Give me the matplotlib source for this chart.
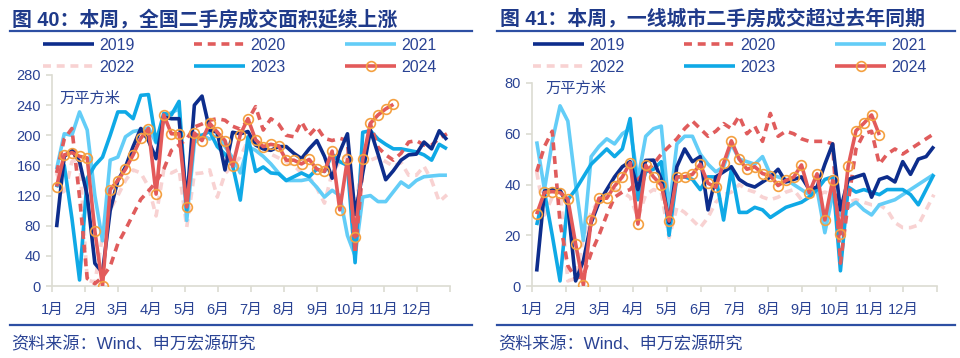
import numpy as np
import matplotlib
matplotlib.use('Agg')
import matplotlib.pyplot as plt
from matplotlib.lines import Line2D

plt.rcParams['font.family'] = ['Liberation Sans', 'Noto Sans CJK SC', 'DejaVu Sans']

# ---------------- data ----------------
years = ['2019', '2020', '2021', '2022', '2023', '2024']
month_labels = ['1月', '2月', '3月', '4月', '5月', '6月', '7月', '8月', '9月', '10月', '11月', '12月']

titles = ['图 40：本周，全国二手房成交面积延续上涨', '图 41：本周，一线城市二手房成交超过去年同期']
unit_label = '万平方米'
source_label = '资料来源：Wind、申万宏源研究'

# national (万平方米), weekly
nat_2019 = [78, 172, 180, 165, 120, 30, 18, 100, 140, 158, 185, 209, 193, 169, 224, 222, 222, 110, 240, 252,
            207, 204, 154, 204, 202, 205, 187, 182, 180, 185, 185, 176, 169, 182, 193, 172, 143, 178, 202, 95,
            150, 207, 175, 141, 153, 167, 174, 175, 191, 182, 206, 194]
nat_2020 = [150, 195, 209, 118, 10, 3, 12, 26, 56, 75, 95, 115, 126, 138, 155, 180, 187, 195, 211, 215,
            220, 222, 220, 212, 208, 220, 238, 207, 222, 215, 200, 198, 218, 200, 211, 196, 193, 196, 193, 43,
            154, 215, 184, 174, 167, 176, 191, 193, 187, 187, 196, 202]
nat_2021 = [155, 202, 200, 231, 207, 120, 60, 167, 171, 198, 205, 207, 210, 190, 225, 230, 235, 87, 190, 200,
            195, 200, 185, 170, 150, 185, 180, 172, 162, 150, 140, 140, 140, 142, 131, 118, 127, 120, 67, 40,
            118, 120, 112, 112, 125, 138, 131, 140, 145, 146, 147, 147]
nat_2022 = [150, 120, 165, 170, 8, 5, 66, 101, 120, 140, 154, 150, 132, 93, 154, 150, 155, 78, 149, 150,
            154, 118, 149, 160, 171, 193, 190, 185, 175, 170, 165, 160, 150, 145, 130, 110, 150, 165, 175, 100,
            168, 167, 171, 165, 159, 164, 147, 147, 159, 140, 112, 121]
nat_2023 = [131, 160, 90, 8, 143, 160, 171, 200, 231, 231, 222, 253, 254, 191, 229, 227, 245, 100, 200, 200,
            205, 185, 175, 160, 114, 198, 152, 158, 150, 149, 140, 145, 150, 145, 155, 152, 175, 165, 160, 31,
            204, 206, 195, 188, 182, 182, 180, 178, 174, 167, 188, 182]
nat_2024 = [132, 174, 177, 172, 170, 73, 0, 128, 140, 155, 174, 196, 209, 122, 227, 202, 202, 105, 203, 193,
            216, 204, 193, 159, 201, 222, 194, 185, 188, 186, 167, 167, 162, 168, 155, 152, 179, 101, 168, 65,
            168, 216, 227, 235, 241]

# tier-1 cities (万平方米), weekly
t1_2019 = [5.7, 37.4, 38.1, 37.7, 32, 2, 10, 25, 33, 38, 43, 47, 49, 38, 49.5, 49.6, 42, 25, 47, 54,
           49, 51, 30, 43, 45, 47, 42, 40, 39, 41, 43, 46, 41, 42, 43, 38, 39, 48, 56, 30,
           42, 43, 44, 35, 42, 43, 41, 49, 44, 50, 51, 55]
t1_2020 = [45, 55, 61, 25, 8, 3, 4, 13, 20, 28, 35, 37, 38, 42, 45, 48, 52, 55, 58, 62,
           65, 62, 59, 61, 64, 62, 67, 60, 63, 57, 68, 59, 61, 60, 58, 57, 57, 57, 56, 9,
           33, 54, 60, 61, 48, 52, 54, 52, 54, 56, 58, 60]
t1_2021 = [57, 38, 57, 71, 65, 40, 18, 51, 55, 58, 56, 60, 62, 42, 59, 62, 63, 30, 56, 59,
           59, 52, 48, 45, 47, 56, 50, 49, 48, 51, 44, 43, 42, 40, 38, 36, 38, 21, 36, 28,
           31, 33, 30, 28, 32, 33, 34, 36, 38, 40, 42, 44]
t1_2022 = [45, 28, 35, 38, 2, 3, 19, 29, 34, 36, 38, 37, 35, 27, 36, 38, 37, 19, 31, 29,
           26, 23, 27, 33, 36, 37, 40, 38, 37, 35, 34, 35, 37, 38, 34, 35, 36, 37, 36, 22,
           33, 34, 33, 32, 32, 30, 25, 23, 23, 24, 30, 36]
t1_2023 = [24, 37, 20, 2, 34, 38, 43, 48, 51, 54, 51, 54, 66, 34, 45, 46, 49, 20, 43, 43,
           42, 38, 43, 43, 26, 46, 29, 29, 31, 30, 27, 29, 31, 32, 33, 35, 38, 42, 43, 6,
           39, 37, 38, 37, 36, 38, 38, 38, 36, 32, 38, 44]
t1_2024 = [28.3, 36.9, 37.2, 36.8, 34.3, 16.6, 0.4, 26, 34.6, 34.6, 39.4, 43, 48.6, 24.4, 47.6, 43, 39.8, 25.6, 43, 43,
           44, 48, 40.5, 38.9, 48.4, 57.2, 50, 46, 47, 44.3, 43.5, 39.6, 41.6, 42.9, 47.7, 36.8, 44.2, 26, 41.6, 20.5,
           47.3, 61.2, 64.1, 67.4, 59.5]

nat_yticks = [0, 40, 80, 120, 160, 200, 240, 280]
t1_yticks = [0, 20, 40, 60, 80]

# ---------------- style ----------------
NAVY = '#1F3A8A'
TXT = '#2A4394'
styles = {
    '2019': dict(color='#0D2D8C', lw=2.6, ls='-', zorder=5),
    '2020': dict(color='#E05C5C', lw=2.6, ls=(0, (2.2, 1.6)), zorder=4),
    '2021': dict(color='#63CDF7', lw=2.6, ls='-', zorder=2),
    '2022': dict(color='#F8D2D2', lw=2.6, ls=(0, (2.2, 1.6)), zorder=1),
    '2023': dict(color='#0FA9E6', lw=2.6, ls='-', zorder=3),
    '2024': dict(color='#E35A5A', lw=2.6, ls='-', zorder=6, marker='o', ms=7,
                 mfc='none', mec='#F4A040', mew=1.2),
}
plot_order = ['2022', '2021', '2020', '2023', '2019', '2024']
legend_order = ['2019', '2022', '2020', '2023', '2021', '2024']

W, H = 960, 358
fig = plt.figure(figsize=(W / 100, H / 100), dpi=100)


def fx(px):
    return px / W


def fy(py):
    return 1 - py / H


def panel(rect, series, yticks, title, title_x, title_fs, rule_x0, rule_x1, leg_x, unit_xy):
    ax = fig.add_axes(rect)
    for y in plot_order:
        vals = series[y]
        x = np.arange(len(vals)) + 0.6
        ax.plot(x, vals, label=y, solid_capstyle='butt', **styles[y])
    ax.set_xlim(0, 52)
    ax.set_ylim(yticks[0], yticks[-1])
    ax.set_yticks(yticks)
    ax.set_xticks([k * 52 / 12 for k in range(13)])
    ax.set_xticklabels(month_labels + [''])
    for s in ['top', 'right']:
        ax.spines[s].set_visible(False)
    for s in ['left', 'bottom']:
        ax.spines[s].set_color('#DCDCD2')
        ax.spines[s].set_linewidth(1.2)
    ax.tick_params(axis='both', colors='#DCDCD2', labelcolor=TXT, labelsize=10.5, length=4, width=1.2)
    ax.tick_params(axis='x', pad=8)
    ax.tick_params(axis='y', pad=4)
    ax.text(unit_xy[0], unit_xy[1], unit_label, transform=fig.transFigure, color=TXT,
            fontsize=11, va='center', ha='left', zorder=10)

    handles = {h.get_label(): h for h in ax.get_lines()}
    leg = ax.legend([handles[k] for k in legend_order], legend_order, ncol=3,
                    loc='upper left', bbox_to_anchor=(fx(leg_x), fy(38)),
                    bbox_transform=fig.transFigure, frameon=False, fontsize=11.5,
                    handlelength=3.2, handletextpad=0.3, columnspacing=3.75,
                    labelspacing=0.42, borderpad=0, borderaxespad=0)
    for t in leg.get_texts():
        t.set_color(TXT)

    fig.text(fx(title_x), fy(19), title, fontsize=title_fs, fontweight='bold', color=NAVY,
             va='center', ha='left')
    fig.add_artist(Line2D([fx(rule_x0), fx(rule_x1)], [fy(30.5), fy(30.5)], color='#2D4FA3', lw=1.6))
    fig.add_artist(Line2D([fx(rule_x0), fx(rule_x1)], [fy(325), fy(325)], color='#2D4FA3', lw=1.6))
    fig.text(fx(rule_x0 + 1), fy(344), source_label, fontsize=12.3, color=TXT, va='center', ha='left')
    return ax


nat = dict(zip(years, [nat_2019, nat_2020, nat_2021, nat_2022, nat_2023, nat_2024]))
t1 = dict(zip(years, [t1_2019, t1_2020, t1_2021, t1_2022, t1_2023, t1_2024]))

panel([fx(52), fy(286), fx(398), (286 - 75) / H], nat, nat_yticks, titles[0],
      12, 14.3, 10, 472, 43, (fx(59), fy(99)))
panel([fx(532), fy(286), fx(405), (286 - 83) / H], t1, t1_yticks, titles[1],
      500, 14.3, 497, 955, 533, (fx(545), fy(89)))

fig.savefig('out.png', dpi=100)
